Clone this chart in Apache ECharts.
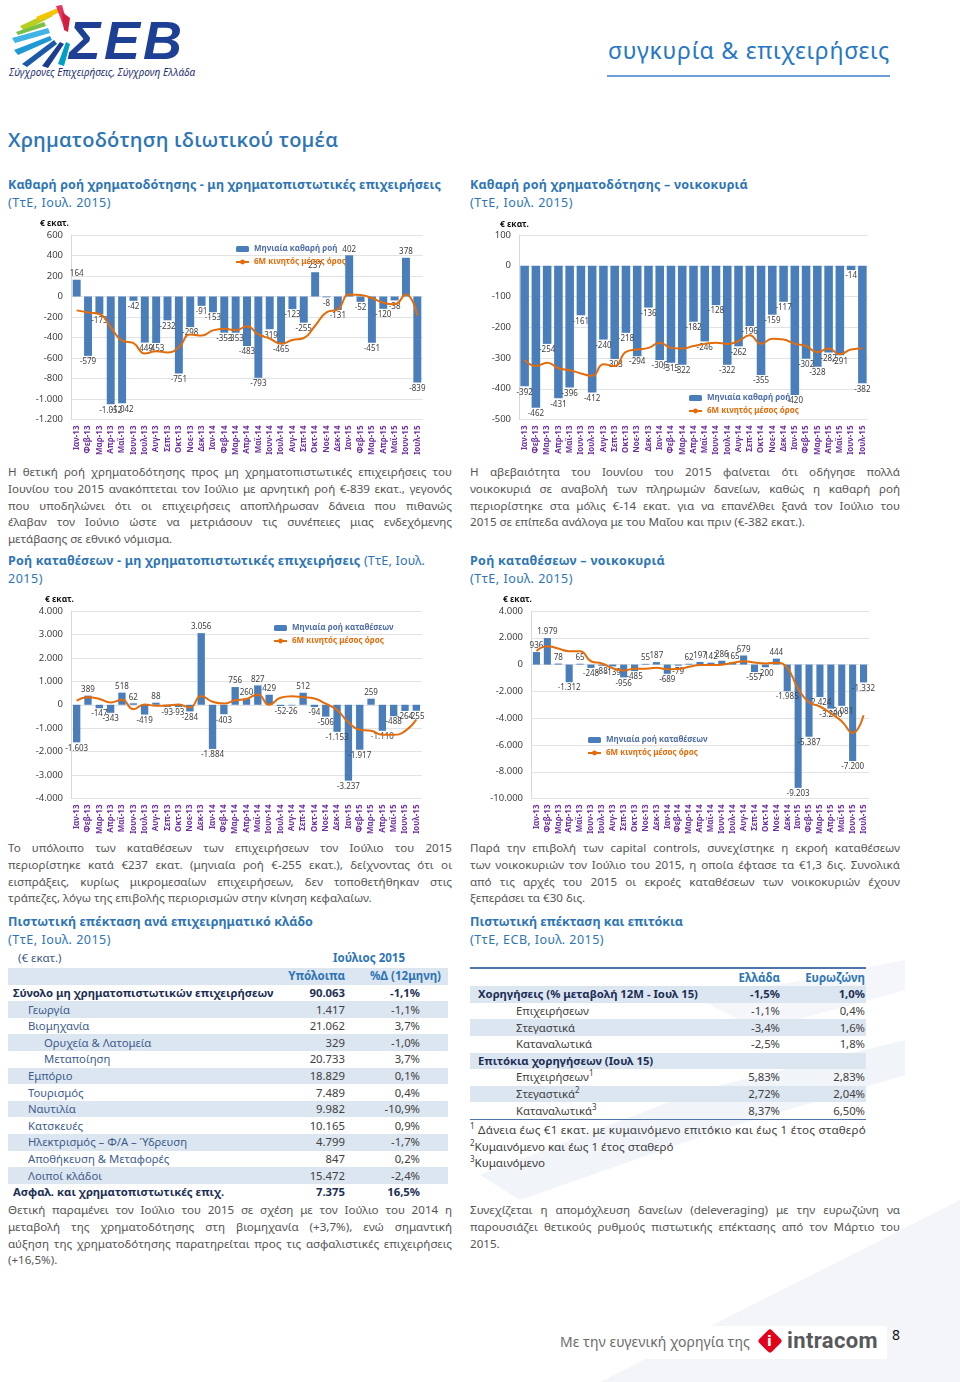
<!DOCTYPE html>
<html><head><meta charset="utf-8">
<script src="https://cdn.jsdelivr.net/npm/echarts@6/dist/echarts.min.js"></script>
<style>
html,body{margin:0;padding:0;background:#fff;}
body{width:960px;height:1382px;position:relative;overflow:hidden;font-family:'Noto Sans',sans-serif;}
.abs{position:absolute;white-space:nowrap;z-index:2;}
.abs sup{font-size:8px;line-height:0;vertical-align:5px;}
.chart{position:absolute;z-index:2;}
.band{position:absolute;background:#dce6f1;z-index:1;}
</style></head><body>

<svg style="position:absolute;left:0;top:0;z-index:0" width="960" height="1382">
  <polygon points="600,1382 960,1200 960,1382" fill="#f3f5f9"/>
  <polygon points="480,1175 700,1090 905,1040 905,1075 720,1130 520,1200" fill="#f1f4f9"/>
  <polygon points="700,1000 905,960 905,990 760,1030" fill="#f4f6fa"/>
</svg>

<svg style="position:absolute;left:6px;top:4px;z-index:2" width="70" height="66">
  <polygon points="14,22 44,8 47,12 18,27" fill="#b8cf1f"/>
  <polygon points="30,13 52,4 54,8 34,17" fill="#f2c500"/>
  <polygon points="50,2 56,1 62,22 58,24" fill="#e6335f"/>
  <polygon points="56,8 64,14 62,28 58,26" fill="#d01f3c"/>
  <polygon points="6,34 42,24 44,29 9,39" fill="#3fb4e5"/>
  <polygon points="8,46 44,32 46,36 12,51" fill="#1d9ad6"/>
  <polygon points="16,60 48,36 51,40 21,63" fill="#1b5aa8"/>
  <polygon points="36,62 54,38 58,40 42,64" fill="#1b3d8f"/>
  <polygon points="52,60 60,38 64,40 58,62" fill="#00a0c6"/>
  <polygon points="10,28 38,18 40,22 12,31" fill="#7ac143"/>
</svg>

<div id="chart1" class="chart" style="left:30px;top:216px;width:410px;height:242px"></div>
<div id="chart2" class="chart" style="left:470px;top:216px;width:420px;height:242px"></div>
<div id="chart3" class="chart" style="left:30px;top:592px;width:410px;height:245px"></div>
<div id="chart4" class="chart" style="left:470px;top:592px;width:420px;height:245px"></div>

<script>
// ---------------- DATA ----------------
const months = ['Ιαν-13','Φεβ-13','Μαρ-13','Απρ-13','Μαϊ-13','Ιουν-13','Ιουλ-13','Αυγ-13','Σεπ-13','Οκτ-13','Νοε-13','Δεκ-13',
  'Ιαν-14','Φεβ-14','Μαρ-14','Απρ-14','Μαϊ-14','Ιουν-14','Ιουλ-14','Αυγ-14','Σεπ-14','Οκτ-14','Νοε-14','Δεκ-14',
  'Ιαν-15','Φεβ-15','Μαρ-15','Απρ-15','Μαϊ-15','Ιουν-15','Ιουλ-15'];

// Net credit flow - non-financial corporations (monthly, € mn) and 6M moving average
const creditFirmsMonthly = [164,-579,-173,-1052,-1042,-42,-449,-453,-232,-751,-298,-91,
  -153,-353,-353,-483,-793,-319,-465,-123,-255,237,-8,-131,
  402,-52,-451,-120,-38,378,-839];
const creditFirmsMA = [-135,-155,-170,-300,-430,-455,-555,-535,-545,-495,-370,-380,
  -330,-315,-330,-290,-370,-410,-460,-425,-405,-285,-155,-125,
  20,15,-15,-60,-75,20,-185];

// Net credit flow - households
const creditHHMonthly = [-392,-462,-254,-431,-396,-161,-412,-240,-303,-218,-294,-136,
  -306,-315,-322,-182,-246,-128,-322,-262,-196,-355,-159,-117,
  -420,-302,-328,-282,-291,-14,-382];
const creditHHMA = [-306,-326,-315,-333,-340,-350,-358,-320,-326,-280,-272,-267,
  -250,-267,-269,-261,-254,-250,-254,-245,-226,-254,-237,-240,
  -254,-261,-281,-269,-288,-272,-269];

// Deposit flow - non-financial corporations
const depFirmsMonthly = [-1603,389,-147,-343,518,62,-419,88,-93,-93,-284,3056,
  -1884,-403,756,260,827,429,-52,-26,512,-94,-506,-1153,
  -3237,-1917,259,-1110,-488,-264,-255];
const depFirmsMA = [180,320,250,100,210,-190,10,-40,-30,10,-120,375,
  130,50,190,250,435,0,300,365,325,265,45,-220,
  -750,-1065,-1110,-1275,-1275,-1125,-630];

// Deposit flow - households
const depHHMonthly = [936,1979,78,-1312,65,-248,-88,-139,-956,-485,55,187,
  -689,-79,62,197,142,286,165,679,-557,-200,444,-1985,
  -9203,-5387,-2424,-3290,-3081,-7200,-1332];
const depHHMA = [1020,1370,1200,1000,1000,250,80,-270,-450,-310,-310,-240,
  -340,-330,-160,-40,-30,-10,130,250,150,90,140,-240,
  -1800,-2810,-3130,-3640,-4230,-5100,-3790];

// Table: credit by sector (Jul 2015)
const sectorNames = ['Σύνολο μη χρηματοπιστωτικών επιχειρήσεων','Γεωργία','Βιομηχανία','Ορυχεία & Λατομεία','Μεταποίηση','Εμπόριο','Τουρισμός','Ναυτιλία','Κατσκευές','Ηλεκτρισμός – Φ/Α – Ύδρευση','Αποθήκευση & Μεταφορές','Λοιποί κλάδοι','Ασφαλ. και χρηματοπιστωτικές επιχ.'];
const sectorLevel = [0,1,1,2,2,1,1,1,1,1,1,1,0];
const sectorBalance = ['90.063','1.417','21.062','329','20.733','18.829','7.489','9.982','10.165','4.799','847','15.472','7.375'];
const sectorChange = ['-1,1%','-1,1%','3,7%','-1,0%','3,7%','0,1%','0,4%','-10,9%','0,9%','-1,7%','0,2%','-2,4%','16,5%'];

// Table: credit expansion & interest rates
const rateNames = ['Χορηγήσεις (% μεταβολή 12Μ - Ιουλ 15)','Επιχειρήσεων','Στεγαστικά','Καταναλωτικά','Επιτόκια χορηγήσεων (Ιουλ 15)','Επιχειρήσεων<sup>1</sup>','Στεγαστικά<sup>2</sup>','Καταναλωτικά<sup>3</sup>'];
const rateLevel = [0,1,1,1,0,1,1,1];
const rateGreece = ['-1,5%','-1,1%','-3,4%','-2,5%','','5,83%','2,72%','8,37%'];
const rateEuro = ['1,0%','0,4%','1,6%','1,8%','','2,83%','2,04%','6,50%'];

// ---------------- TEXT HELPERS ----------------
const FONT = "'Noto Sans', sans-serif";
function T(html, x, yc, o) {
  o = o || {};
  const d = document.createElement('div');
  d.className = 'abs';
  d.innerHTML = html;
  const lh = o.lh || 18;
  d.style.lineHeight = lh + 'px';
  d.style.top = (yc - lh / 2) + 'px';
  if (o.right != null) d.style.right = (960 - o.right) + 'px'; else d.style.left = x + 'px';
  d.style.fontSize = (o.fs || 12) + 'px';
  d.style.color = o.c || '#595959';
  if (o.b) d.style.fontWeight = (o.b === true ? 'bold' : o.b);
  if (o.i) d.style.fontStyle = 'italic';
  if (o.ff) d.style.fontFamily = o.ff;
  document.body.appendChild(d);
  if (o.w) {
    let nat = d.getBoundingClientRect().width;
    const txt = d.textContent;
    if (o.mode === 'word') {
      const n = (txt.match(/ /g) || []).length;
      if (nat > o.w - n * 0.5) {
        const ls = (o.w - n * 0.8 - nat) / txt.length;
        d.style.letterSpacing = ls + 'px';
        nat = d.getBoundingClientRect().width;
      }
      if (n) d.style.wordSpacing = ((o.w - nat) / n) + 'px';
    } else {
      d.style.letterSpacing = ((o.w - nat) / txt.length) + 'px';
    }
  }
  return d;
}
function para(lines, x, y0, w) {
  lines.forEach((ln, i) => {
    const last = i === lines.length - 1;
    T(ln, x, y0 + i * 16.8, {fs: 11.6, c: '#555555', w: last ? null : w, mode: 'word'});
  });
}
const BLUE = '#2E75B6';

// header
T('ΣΕΒ', 69, 40, {fs: 54, b: true, i: true, c: '#1d3f94', lh: 56, w: 116, ff: "'Liberation Sans', sans-serif"});
T('Σύγχρονες Επιχειρήσεις, Σύγχρονη Ελλάδα', 9, 72, {fs: 10, i: true, c: '#1d2f6f', w: 186});
T('συγκυρία &amp; επιχειρήσεις', 608, 50, {fs: 23, c: '#2677c4', lh: 30, w: 282});
(function(){ const l = document.createElement('div'); l.style.cssText = 'position:absolute;left:607px;top:75px;width:283px;height:1.5px;background:#6f9fd8;'; document.body.appendChild(l); })();
T('Χρηματοδότηση ιδιωτικού τομέα', 8, 140, {fs: 20, b: 600, c: BLUE, lh: 26, w: 330, ff: "'Open Sans', 'Noto Sans', sans-serif"});

// subtitles
T('<b>Καθαρή ροή χρηματοδότησης - μη χρηματοπιστωτικές επιχειρήσεις</b>', 8, 185, {fs: 12.5, c: BLUE, w: 433});
T('(ΤτΕ, Ιουλ. 2015)', 8, 203, {fs: 12.5, c: BLUE, w: 103});
T('<b>Καθαρή ροή χρηματοδότησης – νοικοκυριά</b>', 470, 185, {fs: 12.5, c: BLUE, w: 278});
T('(ΤτΕ, Ιουλ. 2015)', 470, 203, {fs: 12.5, c: BLUE, w: 103});
T('<b>Ροή καταθέσεων - μη χρηματοπιστωτικές επιχειρήσεις</b> (ΤτΕ, Ιουλ.', 8, 561, {fs: 12.5, c: BLUE, w: 417});
T('2015)', 8, 579, {fs: 12.5, c: BLUE, w: 35});
T('<b>Ροή καταθέσεων – νοικοκυριά</b>', 470, 561, {fs: 12.5, c: BLUE, w: 195});
T('(ΤτΕ, Ιουλ. 2015)', 470, 579, {fs: 12.5, c: BLUE, w: 103});
T('<b>Πιστωτική επέκταση ανά επιχειρηματικό κλάδο</b>', 8, 922, {fs: 12.5, c: BLUE, w: 305});
T('(ΤτΕ, Ιουλ. 2015)', 8, 940, {fs: 12.5, c: BLUE, w: 103});
T('<b>Πιστωτική επέκταση και επιτόκια</b>', 470, 922, {fs: 12.5, c: BLUE, w: 213});
T('(ΤτΕ, ECB, Ιουλ. 2015)', 470, 940, {fs: 12.5, c: BLUE, w: 134});

// paragraphs
para(['Η θετική ροή χρηματοδότησης προς μη χρηματοπιστωτικές επιχειρήσεις του',
  'Ιουνίου του 2015 ανακόπτεται τον Ιούλιο με αρνητική ροή €-839 εκατ., γεγονός',
  'που υποδηλώνει ότι οι επιχειρήσεις αποπλήρωσαν δάνεια που πιθανώς',
  'έλαβαν τον Ιούνιο ώστε να μετριάσουν τις συνέπειες μιας ενδεχόμενης',
  'μετάβασης σε εθνικό νόμισμα.'], 8, 472, 444);
para(['Η αβεβαιότητα του Ιουνίου του 2015 φαίνεται ότι οδήγησε πολλά',
  'νοικοκυριά σε αναβολή των πληρωμών δανείων, καθώς η καθαρή ροή',
  'περιορίστηκε στα μόλις €-14 εκατ. για να επανέλθει ξανά τον Ιούλιο του',
  '2015 σε επίπεδα ανάλογα με του Μαΐου και πριν (€-382 εκατ.).'], 470, 472, 430);
para(['Το υπόλοιπο των καταθέσεων των επιχειρήσεων τον Ιούλιο του 2015',
  'περιορίστηκε κατά €237 εκατ. (μηνιαία ροή €-255 εκατ.), δείχνοντας ότι οι',
  'εισπράξεις, κυρίως μικρομεσαίων επιχειρήσεων, δεν τοποθετήθηκαν στις',
  'τράπεζες, λόγω της επιβολής περιορισμών στην κίνηση κεφαλαίων.'], 8, 848, 444);
para(['Παρά την επιβολή των capital controls, συνεχίστηκε η εκροή καταθέσεων',
  'των νοικοκυριών τον Ιούλιο του 2015, η οποία έφτασε τα €1,3 δις. Συνολικά',
  'από τις αρχές του 2015 οι εκροές καταθέσεων των νοικοκυριών έχουν',
  'ξεπεράσει τα €30 δις.'], 470, 848, 430);
para(['Θετική παραμένει τον Ιούλιο του 2015 σε σχέση με τον Ιούλιο του 2014 η',
  'μεταβολή της χρηματοδότησης στη βιομηχανία (+3,7%), ενώ σημαντική',
  'αύξηση της χρηματοδότησης παρατηρείται προς τις ασφαλιστικές επιχειρήσεις',
  '(+16,5%).'], 8, 1210, 444);
para(['Συνεχίζεται η απομόχλευση δανείων (deleveraging) με την ευρωζώνη να',
  'παρουσιάζει θετικούς ρυθμούς πιστωτικής επέκτασης από τον Μάρτιο του',
  '2015.'], 470, 1210, 430);

// ---------------- LEFT TABLE ----------------
function band(x, y, w, h) { const b = document.createElement('div'); b.className = 'band'; b.style.left = x + 'px'; b.style.top = y + 'px'; b.style.width = w + 'px'; b.style.height = h + 'px'; document.body.appendChild(b); }
const RH = 16.6;
T('(€ εκατ.)', 18, 958, {fs: 11.5, c: '#3b5a88'});
T('Ιούλιος 2015', 333, 958, {fs: 11.5, b: true, c: BLUE});
const t1 = 968;
band(8, t1, 440, RH);
T('Υπόλοιπα', 0, t1 + RH / 2, {fs: 11.5, b: true, c: BLUE, right: 345});
T('%Δ (12μηνη)', 370, t1 + RH / 2, {fs: 11.5, b: true, c: BLUE});
sectorNames.forEach((n, i) => {
  const r = i + 1;
  const yc = t1 + RH * r + RH / 2;
  if (r % 2 === 0) band(8, t1 + RH * r, 440, RH);
  const bold = sectorLevel[i] === 0;
  const x = [13, 28, 44][sectorLevel[i]];
  T(n, x, yc, {fs: 11.3, b: bold, c: bold ? '#1c2f55' : '#3d5c8c'});
  T(sectorBalance[i], 0, yc, {fs: 11.3, b: bold, c: bold ? '#1c2f55' : '#404040', right: 345});
  T(sectorChange[i], 0, yc, {fs: 11.3, b: bold, c: bold ? '#1c2f55' : '#404040', right: 420});
});

// ---------------- RIGHT TABLE ----------------
const t2 = 969.5;
(function(){ const l = document.createElement('div'); l.style.cssText = 'position:absolute;left:470px;top:' + (t2 - 2.5) + 'px;width:396px;height:2px;background:#4f75ad;z-index:2'; document.body.appendChild(l); })();
T('Ελλάδα', 0, t2 + RH / 2, {fs: 11.5, b: true, c: BLUE, right: 780});
T('Ευρωζώνη', 0, t2 + RH / 2, {fs: 11.5, b: true, c: BLUE, right: 865});
rateNames.forEach((n, i) => {
  const r = i + 1;
  const yc = t2 + RH * r + RH / 2;
  if (r % 2 === 1) band(470, t2 + RH * r, 396, RH);
  const bold = rateLevel[i] === 0;
  const x = bold ? 478 : 516;
  T(n, x, yc, {fs: 11.3, b: bold, c: bold ? '#1c2f55' : '#404040'});
  if (rateGreece[i]) T(rateGreece[i], 0, yc, {fs: 11.3, b: bold, c: bold ? '#1c2f55' : '#404040', right: 780});
  if (rateEuro[i]) T(rateEuro[i], 0, yc, {fs: 11.3, b: bold, c: bold ? '#1c2f55' : '#404040', right: 865});
});
(function(){ const l = document.createElement('div'); l.style.cssText = 'position:absolute;left:470px;top:' + (t2 + RH * 9) + 'px;width:396px;height:1.5px;background:#4f75ad;z-index:2'; document.body.appendChild(l); })();
T('<sup>1</sup> Δάνεια έως €1 εκατ. με κυμαινόμενο επιτόκιο και έως 1 έτος σταθερό', 470, 1130, {fs: 11.6, c: '#404040', w: 396});
T('<sup>2</sup>Κυμαινόμενο και έως 1 έτος σταθερό', 470, 1147, {fs: 11.6, c: '#404040'});
T('<sup>3</sup>Κυμαινόμενο', 470, 1163, {fs: 11.6, c: '#404040'});

// ---------------- FOOTER ----------------
(function(){ const b = document.createElement('div'); b.style.cssText = 'position:absolute;left:551px;top:1326px;width:336px;height:33px;background:#fff;z-index:1'; document.body.appendChild(b); })();
T('Με την ευγενική χορηγία της', 560, 1342, {fs: 14, c: '#6d6d6d', w: 190});
(function(){
  const d = document.createElement('div');
  d.style.cssText = 'position:absolute;left:761px;top:1332px;width:18px;height:18px;background:#e2001a;transform:rotate(45deg);border-radius:3px;z-index:2';
  document.body.appendChild(d);
  T('i', 767, 1341, {fs: 14, b: true, c: '#fff', ff: "'DejaVu Sans', sans-serif"});
})();
T('intracom', 787, 1341, {fs: 22, b: true, c: '#58595b', lh: 26, w: 91, ff: "'Roboto', sans-serif"});
T('8', 892, 1335, {fs: 14, c: '#111'});

// ---------------- CHARTS ----------------
function fmt(v) { const a = Math.abs(v).toString().replace(/\B(?=(\d{3})+(?!\d))/g, '.'); return (v < 0 ? '-' : '') + a; }
function build(id, cfg) {
  const c = echarts.init(document.getElementById(id));
  c.setOption({
    animation: false,
    textStyle: {fontFamily: FONT},
    title: {text: '€ εκατ.', left: cfg.unit[0], top: cfg.unit[1], padding: 0,
      textStyle: {fontSize: 8.5, fontWeight: 'bold', color: '#111', fontFamily: FONT}},
    legend: {orient: 'vertical', left: cfg.leg[0], top: cfg.leg[1], itemGap: 5, itemWidth: 13, itemHeight: 6,
      textStyle: {fontSize: 8, fontWeight: 'bold', fontFamily: FONT},
      data: [{name: cfg.barName, textStyle: {color: '#4f6ea8'}}, {name: '6M κινητός μέσος όρος', textStyle: {color: '#E46C0A'}}]},
    grid: {left: cfg.grid[0], top: cfg.grid[1], width: cfg.grid[2], height: cfg.grid[3]},
    xAxis: {type: 'category', data: months, axisTick: {show: false}, axisLine: {show: false},
      axisLabel: {rotate: 90, interval: 0, color: '#7030A0', fontSize: 8, fontWeight: 'bold', margin: 6, fontFamily: FONT}},
    yAxis: {type: 'value', min: cfg.min, max: cfg.max, interval: cfg.interval,
      axisLine: {show: true, lineStyle: {color: '#d9d9d9'}}, axisTick: {show: false},
      axisLabel: {formatter: fmt, fontSize: 9.5, color: '#404040', margin: 8, fontFamily: FONT},
      splitLine: {lineStyle: {color: '#e3e3e3'}}},
    series: [
      {type: 'bar', name: cfg.barName, barWidth: cfg.bw || '70%',
        data: cfg.bars.map(v => ({value: v, label: {position: v < 0 ? 'bottom' : 'top'}})),
        itemStyle: {color: '#4A7EBB'},
        label: {show: true, formatter: p => fmt(p.value), fontSize: 8, color: '#404040', distance: 2, fontFamily: FONT}},
      {type: 'line', name: '6M κινητός μέσος όρος', data: cfg.line, smooth: true, symbol: 'none', z: 5,
        lineStyle: {color: '#E46C0A', width: 2}, itemStyle: {color: '#E46C0A'}}
    ]
  });
}
build('chart1', {bars: creditFirmsMonthly, line: creditFirmsMA, barName: 'Μηνιαία καθαρή ροή',
  min: -1200, max: 600, interval: 200, grid: [41, 19, 352, 187], unit: [10, 3], leg: [200, 24]});
build('chart2', {bars: creditHHMonthly, line: creditHHMA, barName: 'Μηνιαία καθαρή ροή', bw: '76%',
  min: -500, max: 100, interval: 100, grid: [49, 19, 349, 186], unit: [30, 4], leg: [213, 173]});
build('chart3', {bars: depFirmsMonthly, line: depFirmsMA, barName: 'Μηνιαία ροή καταθέσεων', bw: '65%',
  min: -4000, max: 4000, interval: 1000, grid: [41, 19, 351, 189], unit: [15, 3], leg: [238, 27]});
build('chart4', {bars: depHHMonthly, line: depHHMA, barName: 'Μηνιαία ροή καταθέσεων', bw: '65%',
  min: -10000, max: 4000, interval: 2000, grid: [61, 19, 338, 189], unit: [33, 3], leg: [112, 139]});
</script>
</body></html>
